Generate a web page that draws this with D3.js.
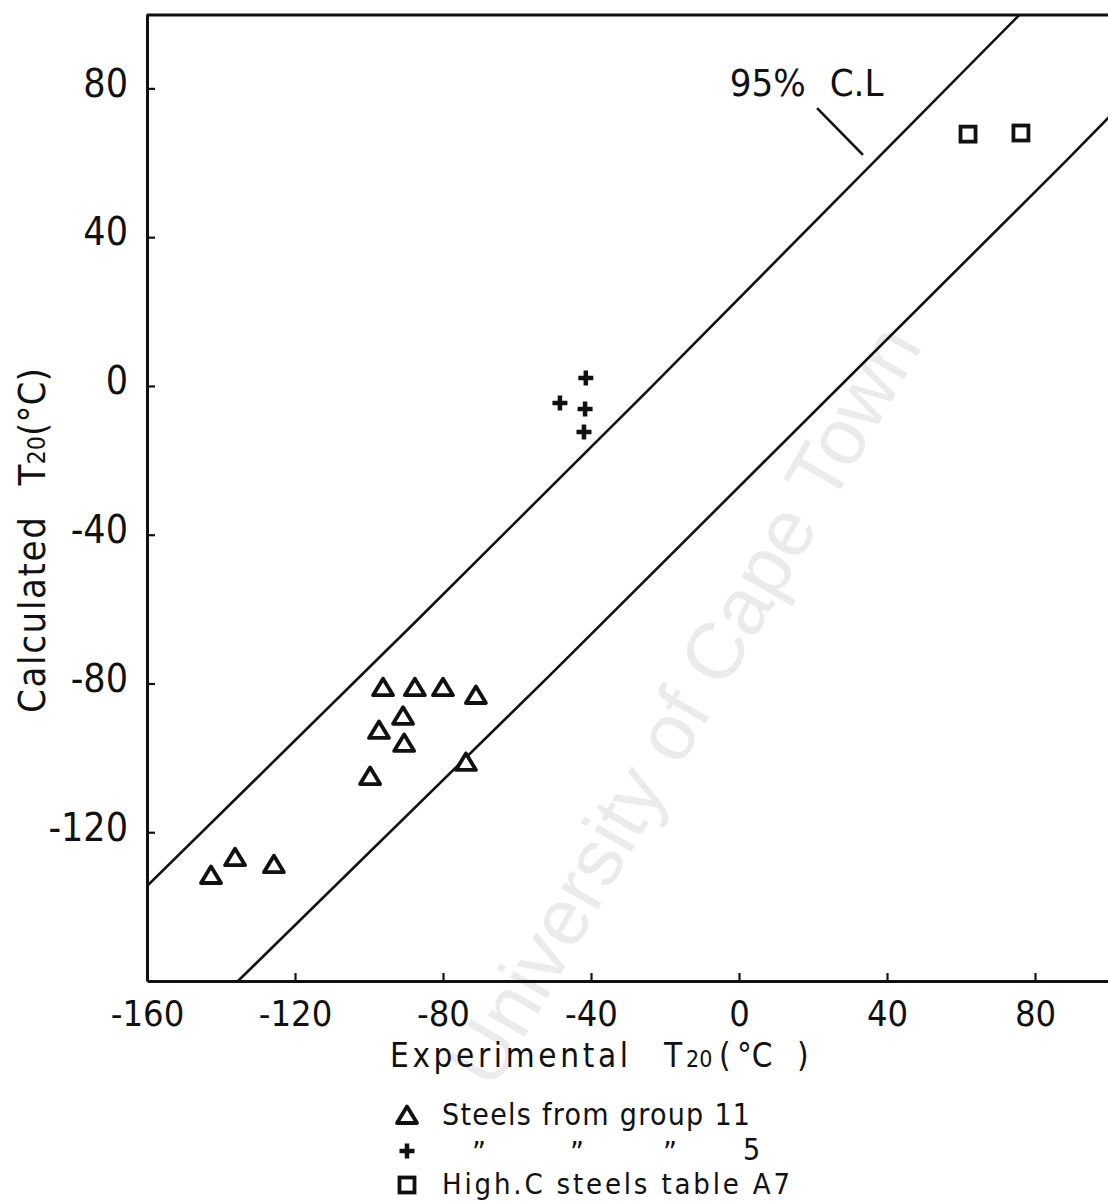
<!DOCTYPE html>
<html>
<head>
<meta charset="utf-8">
<script src="https://cdn.jsdelivr.net/npm/d3@7"></script>
<style>
  html, body { margin: 0; padding: 0; background: #fff; }
  svg { display: block; }
  .lbl { font-family: "Liberation Sans Narrow", "DejaVu Sans Condensed", "Liberation Sans", sans-serif; fill: #111; }
  .txt { font-family: "Liberation Sans", "DejaVu Sans", sans-serif; fill: #111; }
</style>
</head>
<body>
<script>
// ---- data ----
const xTicks = [-160, -120, -80, -40, 0, 40, 80];
const xTickLabels = ["-160", "-120", "-80", "-40", "0", "40", "80"];
const yTicks = [-120, -80, -40, 0, 40, 80];
const yTickLabels = ["-120", "-80", "-40", "0", "40", "80"];

const group11X = [-142.7, -136.2, -125.7, -99.7, -97.3, -96.2, -90.8, -90.5, -87.6, -80.0, -71.1, -73.8];
const group11Y = [-131.5, -126.7, -128.6, -104.9, -92.5, -81.0, -88.7, -96.0, -81.0, -81.0, -83.1, -101.1];
const group5X = [-41.4, -48.4, -41.6, -41.9];
const group5Y = [2.1, -4.6, -6.2, -12.4];
const highCX = [61.9, 76.2];
const highCY = [67.7, 68.0];

const upperCLX = [-160, -87, -24, 76];
const upperCLY = [-134.5, -63, -0.6, 100];
const lowerCLX = [-135.4, -51, 88.6, 100];
const lowerCLY = [-160, -77.7, 60.7, 72.3];

const legendLabels = ["Steels  from  group  11", "\u201D", "High.C  steels  table  A7"];

// ---- drawing ----
const W = 1108, H = 1202;
const svg = d3.select("body").append("svg").attr("width", W).attr("height", H);
svg.append("rect").attr("width", W).attr("height", H).attr("fill", "#fff");

const x = d3.scaleLinear().domain([-160, 100]).range([147, 1109]);
const y = d3.scaleLinear().domain([-160, 100]).range([981, 14]);

// watermark
svg.append("text").attr("class", "txt")
  .attr("transform", `translate(690,708) rotate(-60)`)
  .attr("text-anchor", "middle").attr("dominant-baseline", "middle")
  .attr("font-size", 80).style("fill", "#ebebeb")
  .text("University of Cape Town");

svg.append("clipPath").attr("id", "plotclip").append("rect")
  .attr("x", x(-160)).attr("y", y(100)).attr("width", x(100) - x(-160)).attr("height", y(-160) - y(100));

// confidence lines
const line = d3.line().x(d => x(d[0])).y(d => y(d[1])).curve(d3.curveLinear);
const gl = svg.append("g").attr("clip-path", "url(#plotclip)");
[[upperCLX, upperCLY], [lowerCLX, lowerCLY]].forEach(([xs, ys]) => {
  gl.append("path").datum(xs.map((v, i) => [v, ys[i]]))
    .attr("d", line).attr("fill", "none").attr("stroke", "#111").attr("stroke-width", 2.6);
});

// axes
const yAxis = d3.axisLeft(y).tickValues(yTicks).tickFormat((d, i) => yTickLabels[i])
  .tickSizeInner(-8).tickSizeOuter(0).tickPadding(19);
const gy = svg.append("g").attr("transform", `translate(${x(-160)},0)`).call(yAxis);
gy.selectAll("text").attr("class", "lbl").attr("font-size", 39).attr("dy", "0.2em").attr("fill", "#111");

const xAxis = d3.axisBottom(x).tickValues(xTicks).tickFormat((d, i) => xTickLabels[i])
  .tickSizeInner(-8).tickSizeOuter(0).tickPadding(19);
const gx = svg.append("g").attr("transform", `translate(0,${y(-160)})`).call(xAxis);
gx.selectAll("text").attr("class", "lbl").attr("font-size", 36).attr("fill", "#111");

[gx, gy].forEach(g => {
  g.select(".domain").attr("stroke", "#111").attr("stroke-width", 3);
  g.selectAll(".tick line").attr("stroke", "#111").attr("stroke-width", 2.2);
});
// top frame line
svg.append("line").attr("x1", x(-160)).attr("x2", x(100)).attr("y1", y(100) + 1).attr("y2", y(100) + 1)
  .attr("stroke", "#111").attr("stroke-width", 3);

// markers
const tri = "M0,-8.5L10,8L-10,8Z";
const plus = "M-7.5,0H7.5M0,-7.5V7.5";
svg.append("g").selectAll("path").data(group11X.map((v, i) => [v, group11Y[i]])).join("path")
  .attr("transform", d => `translate(${x(d[0])},${y(d[1])})`)
  .attr("d", tri).attr("fill", "#fff").attr("stroke", "#111").attr("stroke-width", 3.8)
  .attr("stroke-linejoin", "round");
svg.append("g").selectAll("path").data(group5X.map((v, i) => [v, group5Y[i]])).join("path")
  .attr("transform", d => `translate(${x(d[0])},${y(d[1])})`)
  .attr("d", plus).attr("fill", "none").attr("stroke", "#111").attr("stroke-width", 4.5);
svg.append("g").selectAll("rect").data(highCX.map((v, i) => [v, highCY[i]])).join("rect")
  .attr("x", d => x(d[0]) - 7.5).attr("y", d => y(d[1]) - 7.5).attr("width", 15).attr("height", 15)
  .attr("fill", "#fff").attr("stroke", "#111").attr("stroke-width", 3.8);

// 95% C.L annotation
svg.append("text").attr("class", "lbl").attr("x", x(-2.5)).attr("y", 96).attr("font-size", 38).text("95%");
svg.append("text").attr("class", "lbl").attr("x", x(24.5)).attr("y", 96).attr("font-size", 38).text("C.L");
svg.append("line").attr("x1", x(21.1)).attr("y1", y(74.7)).attr("x2", x(33.5)).attr("y2", y(62.1))
  .attr("stroke", "#111").attr("stroke-width", 2.6);

// x title
const xt = svg.append("g");
xt.append("text").attr("class", "lbl").attr("x", 390).attr("y", 1067).attr("font-size", 33)
  .attr("textLength", 238).attr("lengthAdjust", "spacing").text("Experimental");
xt.append("text").attr("class", "lbl").attr("x", 664).attr("y", 1067).attr("font-size", 33).text("T");
xt.append("text").attr("class", "lbl").attr("x", 686).attr("y", 1067).attr("font-size", 23).text("20");
xt.append("text").attr("class", "lbl").attr("x", 719).attr("y", 1067).attr("font-size", 33).text("(");
xt.append("text").attr("class", "lbl").attr("x", 737).attr("y", 1067).attr("font-size", 33).text("°C");
xt.append("text").attr("class", "lbl").attr("x", 797).attr("y", 1067).attr("font-size", 33).text(")");

// y title
const yt = svg.append("text").attr("class", "lbl").attr("transform", "translate(45,713) rotate(-90)")
  .attr("font-size", 38);
yt.append("tspan").attr("textLength", 196).attr("lengthAdjust", "spacing").text("Calculated");
yt.append("tspan").attr("dx", 30).text("T");
yt.append("tspan").attr("font-size", 25).text("20");
yt.append("tspan").text("(°C)");

// legend
const lg = svg.append("g");
lg.append("path").attr("transform", "translate(407,1115)").attr("d", tri)
  .attr("fill", "#fff").attr("stroke", "#111").attr("stroke-width", 3.8).attr("stroke-linejoin", "round");
lg.append("path").attr("transform", "translate(407,1151)").attr("d", plus)
  .attr("fill", "none").attr("stroke", "#111").attr("stroke-width", 4.5);
lg.append("rect").attr("x", 407 - 7.5).attr("y", 1185 - 7.5).attr("width", 15).attr("height", 15)
  .attr("fill", "#fff").attr("stroke", "#111").attr("stroke-width", 3.8);

lg.append("text").attr("class", "lbl").attr("x", 442).attr("y", 1125).attr("font-size", 30)
  .attr("textLength", 308).attr("lengthAdjust", "spacing").text(legendLabels[0]);
[472, 570, 663].forEach(px => {
  lg.append("text").attr("class", "lbl").attr("x", px).attr("y", 1163).attr("font-size", 30).text(legendLabels[1]);
});
lg.append("text").attr("class", "lbl").attr("x", 743).attr("y", 1160).attr("font-size", 30).text("5");
lg.append("text").attr("class", "lbl").attr("x", 442).attr("y", 1194).attr("font-size", 29)
  .attr("textLength", 348).attr("lengthAdjust", "spacing").text(legendLabels[2]);
</script>
</body>
</html>
